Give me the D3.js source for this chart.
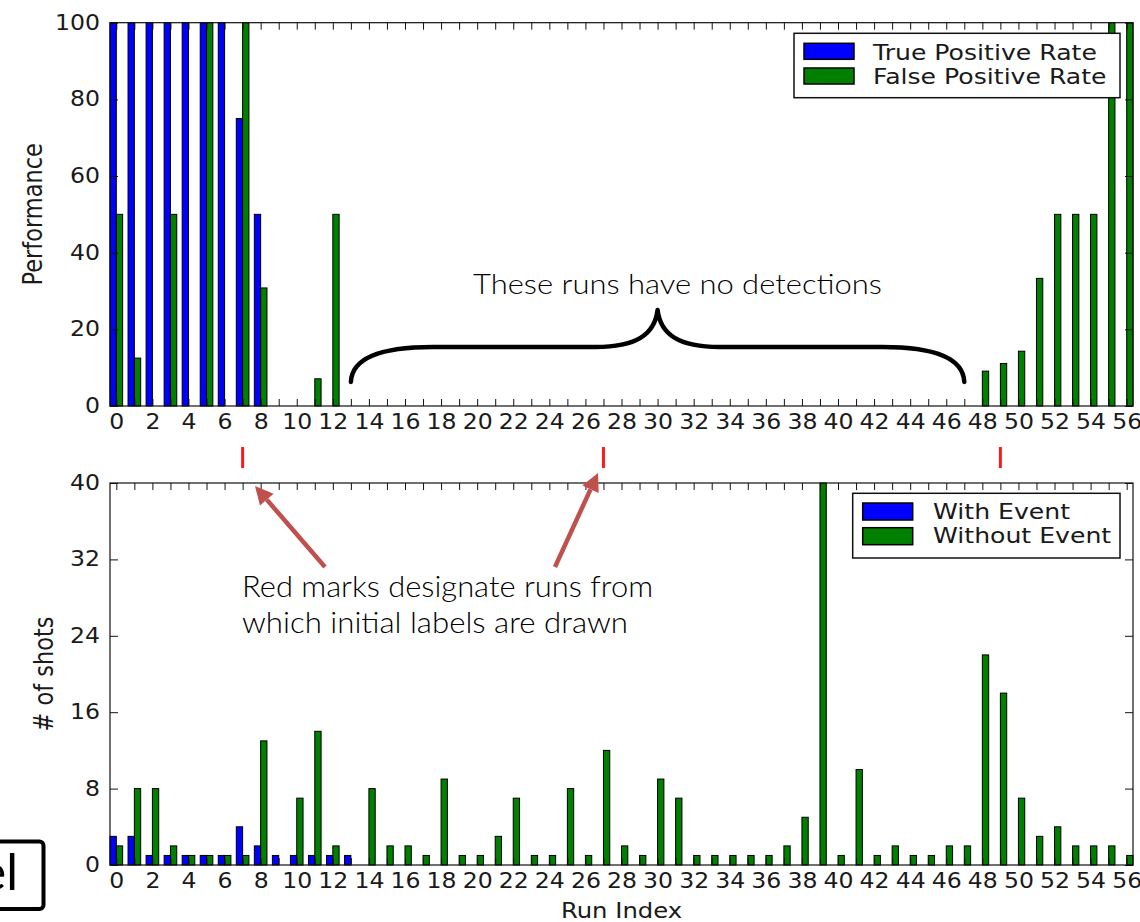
<!DOCTYPE html>
<html>
<head>
<meta charset="utf-8">
<script src="https://cdn.jsdelivr.net/npm/d3@7"></script>
<style>
  html, body { margin: 0; padding: 0; background: #fff; }
  svg { display: block; }
</style>
</head>
<body>
<svg id="chart" width="1140" height="922"></svg>
<script>
// ---- data ----------------------------------------------------------------
const runIndex = d3.range(0, 57);

const truePositiveRate = [
  100, 100, 100, 100, 100, 100, 100, 75, 50, 0,
  0, 0, 0, 0, 0, 0, 0, 0, 0, 0,
  0, 0, 0, 0, 0, 0, 0, 0, 0, 0,
  0, 0, 0, 0, 0, 0, 0, 0, 0, 0,
  0, 0, 0, 0, 0, 0, 0, 0, 0, 0,
  0, 0, 0, 0, 0, 0, 0
];

const falsePositiveRate = [
  50, 12.5, 0, 50, 0, 100, 0, 100, 30.8, 0,
  0, 7.1, 50, 0, 0, 0, 0, 0, 0, 0,
  0, 0, 0, 0, 0, 0, 0, 0, 0, 0,
  0, 0, 0, 0, 0, 0, 0, 0, 0, 0,
  0, 0, 0, 0, 0, 0, 0, 0, 9.1, 11.1,
  14.3, 33.3, 50, 50, 50, 100, 100
];

const withEvent = [
  3, 3, 1, 1, 1, 1, 1, 4, 2, 1,
  1, 1, 1, 1, 0, 0, 0, 0, 0, 0,
  0, 0, 0, 0, 0, 0, 0, 0, 0, 0,
  0, 0, 0, 0, 0, 0, 0, 0, 0, 0,
  0, 0, 0, 0, 0, 0, 0, 0, 0, 0,
  0, 0, 0, 0, 0, 0, 0
];

const withoutEvent = [
  2, 8, 8, 2, 1, 1, 1, 1, 13, 0,
  7, 14, 2, 0, 8, 2, 2, 1, 9, 1,
  1, 3, 7, 1, 1, 8, 1, 12, 2, 1,
  9, 7, 1, 1, 1, 1, 1, 2, 5, 40,
  1, 10, 1, 2, 1, 1, 2, 2, 22, 18,
  7, 3, 4, 2, 2, 2, 1
];

const performanceTicks = [0, 20, 40, 60, 80, 100];
const shotTicks = [0, 8, 16, 24, 32, 40];
const labelSourceRuns = [7, 27, 49];
const noDetectionSpan = [13, 47];

const topLegend = ["True Positive Rate", "False Positive Rate"];
const bottomLegend = ["With Event", "Without Event"];

// ---- layout ---------------------------------------------------------------
const BLUE = "#0000ff";
const GREEN = "#007f00";
const ARROW = "#c0504d";
const MPL_FONT = "'DejaVu Sans', sans-serif";
const NOTE_FONT = "Lato, 'Open Sans', sans-serif";
const barW = 0.35;

const svg = d3.select("#chart");

const x = d3.scaleLinear()
  .domain([0, d3.max(runIndex) + 2 * barW])
  .range([110, 1133]);

const panels = [
  { top: 22.7, bottom: 406, max: 100, ticks: performanceTicks,
    a: truePositiveRate, b: falsePositiveRate, label: "Performance", labelX: 42 },
  { top: 483, bottom: 865, max: 40, ticks: shotTicks,
    a: withEvent, b: withoutEvent, label: "# of shots", labelX: 53 }
];

panels.forEach(p => {
  const y = d3.scaleLinear().domain([0, p.max]).range([p.bottom, p.top]);
  p.y = y;
  const g = svg.append("g");

  // bars: first series at i, second at i + barW
  const series = [
    { vals: p.a, off: 0, color: BLUE },
    { vals: p.b, off: barW, color: GREEN }
  ];
  series.forEach(s => {
    g.append("g").selectAll("rect")
      .data(runIndex.filter(i => s.vals[i] > 0))
      .join("rect")
      .attr("x", i => x(i + s.off))
      .attr("width", i => x(i + s.off + barW) - x(i + s.off))
      .attr("y", i => y(Math.min(s.vals[i], p.max)))
      .attr("height", i => y(0) - y(Math.min(s.vals[i], p.max)))
      .attr("fill", s.color)
      .attr("stroke", "#000")
      .attr("stroke-width", 1);
  });

  const tickVals = runIndex.map(i => i + barW);

  // bottom x axis with labels on every other run
  const xb = g.append("g")
    .attr("transform", `translate(0,${p.bottom})`)
    .call(d3.axisBottom(x).tickValues(tickVals)
      .tickFormat((d, k) => (runIndex[k] % 2 === 0 ? runIndex[k] : ""))
      .tickSizeInner(-7).tickSizeOuter(0).tickPadding(8));
  // top x axis: ticks only
  const xt = g.append("g")
    .attr("transform", `translate(0,${p.top})`)
    .call(d3.axisTop(x).tickValues(tickVals).tickFormat("")
      .tickSizeInner(-7).tickSizeOuter(0));
  // left y axis
  const yl = g.append("g")
    .attr("transform", `translate(${x.range()[0]},0)`)
    .call(d3.axisLeft(y).tickValues(p.ticks)
      .tickSizeInner(-8).tickSizeOuter(0).tickPadding(10));
  // right y axis: ticks only
  const yr = g.append("g")
    .attr("transform", `translate(${x.range()[1]},0)`)
    .call(d3.axisRight(y).tickValues(p.ticks).tickFormat("")
      .tickSizeInner(-8).tickSizeOuter(0));

  [xb, xt, yl, yr].forEach(a => {
    a.select(".domain").remove();
    a.selectAll(".tick line").attr("stroke", "#111").attr("stroke-width", 1);
    a.attr("font-family", MPL_FONT).attr("font-size", 20.5);
    a.selectAll(".tick text").attr("fill", "#1a1a1a");
  });
  xb.selectAll(".tick text").attr("transform", "scale(1.15,1)");
  yl.selectAll(".tick text")
    .attr("x", 0)
    .attr("transform", "translate(-10,0) scale(1.15,1)");

  // plot frame
  g.append("rect")
    .attr("x", x.range()[0]).attr("y", p.top)
    .attr("width", x.range()[1] - x.range()[0])
    .attr("height", p.bottom - p.top)
    .attr("fill", "none").attr("stroke", "#111").attr("stroke-width", 1.2);

  // y label
  g.append("text")
    .attr("transform", `translate(${p.labelX},${(p.top + p.bottom) / 2}) rotate(-90) scale(1,1.15)`)
    .attr("text-anchor", "middle")
    .attr("font-family", MPL_FONT).attr("font-size", 22.5)
    .attr("fill", "#1a1a1a")
    .text(p.label);
});

// x label of lower panel
svg.append("text")
  .attr("transform", `translate(${(x.range()[0] + x.range()[1]) / 2},918) scale(1.18,1)`)
  .attr("text-anchor", "middle")
  .attr("font-family", MPL_FONT).attr("font-size", 20.6)
  .attr("fill", "#1a1a1a")
  .text("Run Index");

// legends
function legend(box, swatchX, swatchY, swatchH, textX, baselines, labels) {
  const lg = svg.append("g");
  lg.append("rect")
    .attr("x", box[0]).attr("y", box[1]).attr("width", box[2]).attr("height", box[3])
    .attr("fill", "#fff").attr("stroke", "#111").attr("stroke-width", 1.5);
  labels.forEach((t, k) => {
    lg.append("rect")
      .attr("x", swatchX).attr("y", swatchY[k]).attr("width", 50).attr("height", swatchH)
      .attr("fill", k === 0 ? BLUE : GREEN)
      .attr("stroke", "#000").attr("stroke-width", 1.5);
    lg.append("text")
      .attr("transform", `translate(${textX},${baselines[k]}) scale(1.17,1)`)
      .attr("font-family", MPL_FONT).attr("font-size", 21.5)
      .attr("fill", "#1a1a1a")
      .text(t);
  });
}
legend([794, 33.3, 326, 64.4], 804, [43.3, 68], 16, 873, [60, 84], topLegend);
legend([852.7, 493.3, 267.3, 64.7], 862.7, [503, 527.7], 17, 933, [519, 543], bottomLegend);

// red marks between the panels
svg.append("g").selectAll("line")
  .data(labelSourceRuns)
  .join("line")
  .attr("x1", d => x(d + barW)).attr("x2", d => x(d + barW))
  .attr("y1", 447).attr("y2", 468)
  .attr("stroke", "#ff1a1a").attr("stroke-width", 3);

// curly brace over the runs without detections
const L = x(noDetectionSpan[0] + barW), R = x(noDetectionSpan[1] + barW);
const M = (L + R) / 2, yEnd = 382, yBar = 347, yPeak = 310;
svg.append("path")
  .attr("d", `M${L},${yEnd} C${L + 1},${yBar + 12} ${L + 28},${yBar} ${L + 82},${yBar}
    L${M - 62},${yBar} C${M - 22},${yBar} ${M - 3},${yBar - 12} ${M},${yPeak}
    C${M + 3},${yBar - 12} ${M + 22},${yBar} ${M + 62},${yBar}
    L${R - 82},${yBar} C${R - 28},${yBar} ${R - 1},${yBar + 12} ${R},${yEnd}`)
  .attr("fill", "none").attr("stroke", "#000").attr("stroke-width", 4.5)
  .attr("stroke-linecap", "round").attr("stroke-linejoin", "round");

svg.append("text")
  .attr("x", 473).attr("y", 294)
  .attr("font-family", NOTE_FONT).attr("font-size", 28).attr("font-weight", 300)
  .attr("textLength", 409).attr("lengthAdjust", "spacingAndGlyphs")
  .attr("fill", "#000")
  .text("These runs have no detections");

// arrows to the red marks
function arrow(x1, y1, x2, y2) {
  const ang = Math.atan2(y2 - y1, x2 - x1);
  const hl = 18, hw = 9;
  const bx = x2 - hl * Math.cos(ang), by = y2 - hl * Math.sin(ang);
  svg.append("line")
    .attr("x1", x1).attr("y1", y1).attr("x2", bx).attr("y2", by)
    .attr("stroke", ARROW).attr("stroke-width", 4.5);
  const px = -Math.sin(ang) * hw, py = Math.cos(ang) * hw;
  svg.append("path")
    .attr("d", `M${x2},${y2} L${bx + px},${by + py} L${bx - px},${by - py} Z`)
    .attr("fill", ARROW);
}
arrow(325, 567, 255, 486);
arrow(555, 567, 598, 473);

svg.append("text")
  .attr("x", 242).attr("y", 597)
  .attr("font-family", NOTE_FONT).attr("font-size", 29).attr("font-weight", 300)
  .attr("textLength", 411).attr("lengthAdjust", "spacingAndGlyphs")
  .attr("fill", "#000")
  .text("Red marks designate runs from");
svg.append("text")
  .attr("x", 242).attr("y", 633)
  .attr("font-family", NOTE_FONT).attr("font-size", 29).attr("font-weight", 300)
  .attr("textLength", 386).attr("lengthAdjust", "spacingAndGlyphs")
  .attr("fill", "#000")
  .text("which initial labels are drawn");

// partly visible boxed label at the lower left
svg.append("rect")
  .attr("x", -20).attr("y", 841.5).attr("width", 63.5).attr("height", 67.5)
  .attr("rx", 4)
  .attr("fill", "#fff").attr("stroke", "#000").attr("stroke-width", 4);
svg.append("text")
  .attr("x", 18).attr("y", 890)
  .attr("text-anchor", "end")
  .attr("font-family", NOTE_FONT).attr("font-size", 50).attr("font-weight", 400)
  .attr("fill", "#000")
  .text("el");
</script>
</body>
</html>
